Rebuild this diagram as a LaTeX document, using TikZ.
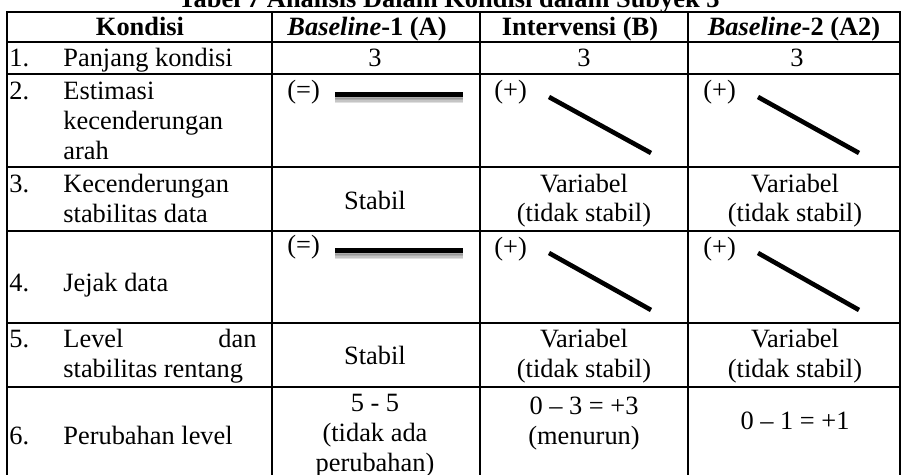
\documentclass[tikz,border=0pt]{standalone}
\usepackage{fontspec}
\setmainfont{Liberation Serif}
\begin{document}
\begin{tikzpicture}[x=0.5pt,y=-0.5pt,
  txt/.style={inner sep=0pt,anchor=base,font=\fontsize{13.2pt}{15pt}\selectfont},
  lft/.style={txt,anchor=base west},
  rgt/.style={txt,anchor=base east},
  hdr/.style={txt,font=\fontsize{13.2pt}{15pt}\selectfont\bfseries},
  rule/.style={line width=1.15pt},
  flat/.style={line width=2.5pt},
  flatshade/.style={line width=2.6pt,black,opacity=0.12},
  slope/.style={line width=2.3pt},
]
\useasboundingbox (0,0) rectangle (902,475);

% caption above the table
\node[hdr] (title) at (449,8) {Tabel 7 Analisis Dalam Kondisi dalam Subyek 3};

% table rules
\draw[rule] (7,12) rectangle (900,478);
\foreach \y in {42,74,167,231,323,387} \draw[rule] (7,\y) -- (900,\y);
\foreach \x in {272,480,688} \draw[rule] (\x,12) -- (\x,478);

% header row
\node[hdr] (h1) at (140,36) {Kondisi};
\node[hdr] (h2) at (367,36) {\textit{Baseline}-1 (A)};
\node[hdr] (h3) at (580,36) {Intervensi (B)};
\node[hdr] (h4) at (794,36) {\textit{Baseline}-2 (A2)};

% 1. Panjang kondisi
\node[lft] (n1) at (9,67) {1.};
\node[lft] (k1) at (63,67) {Panjang kondisi};
\node[txt] (a1) at (375,67) {3};
\node[txt] (b1) at (584,67) {3};
\node[txt] (c1) at (797,67) {3};

% 2. Estimasi kecenderungan arah
\node[lft] (n2) at (9,100) {2.};
\node[lft] (k2a) at (63,100) {Estimasi};
\node[lft] (k2b) at (63,130) {kecenderungan};
\node[lft] (k2c) at (63,160) {arah};
\node[lft] (a2) at (287,99) {(=)};
\coordinate (a2s) at (335,95); \coordinate (a2e) at (463,95);
\foreach \d in {0.8,1.4,2.0,2.6}
  \draw[flatshade] ([yshift=-\d pt]a2s) -- ([yshift=-\d pt]a2e);
\draw[flat] (a2s) -- (a2e);
\node[lft] (b2) at (494,99) {(+)};
\coordinate (b2s) at (549,97); \coordinate (b2e) at (651,153);
\draw[slope] (b2s) -- (b2e);
\node[lft] (c2) at (703,99) {(+)};
\coordinate (c2s) at (758,97); \coordinate (c2e) at (859,153);
\draw[slope] (c2s) -- (c2e);

% 3. Kecenderungan stabilitas data
\node[lft] (n3) at (9,193) {3.};
\node[lft] (k3a) at (63,193) {Kecenderungan};
\node[lft] (k3b) at (63,223) {stabilitas data};
\node[txt] (a3) at (375,210) {Stabil};
\node[txt] (b3a) at (584,193) {Variabel};
\node[txt] (b3b) at (584,222) {(tidak stabil)};
\node[txt] (c3a) at (795,193) {Variabel};
\node[txt] (c3b) at (795,222) {(tidak stabil)};

% 4. Jejak data
\node[lft] (n4) at (9,292) {4.};
\node[lft] (k4) at (63,292) {Jejak data};
\node[lft] (a4) at (287,254) {(=)};
\coordinate (a4s) at (335,251); \coordinate (a4e) at (463,251);
\foreach \d in {0.8,1.4,2.0,2.6}
  \draw[flatshade] ([yshift=-\d pt]a4s) -- ([yshift=-\d pt]a4e);
\draw[flat] (a4s) -- (a4e);
\node[lft] (b4) at (494,256) {(+)};
\coordinate (b4s) at (549,253); \coordinate (b4e) at (651,310);
\draw[slope] (b4s) -- (b4e);
\node[lft] (c4) at (703,256) {(+)};
\coordinate (c4s) at (758,253); \coordinate (c4e) at (859,310);
\draw[slope] (c4s) -- (c4e);

% 5. Level dan stabilitas rentang
\node[lft] (n5) at (9,348) {5.};
\node[lft] (k5a) at (63,348) {Level};
\node[rgt] (k5b) at (257,348) {dan};
\node[lft] (k5c) at (63,378) {stabilitas rentang};
\node[txt] (a5) at (375,365) {Stabil};
\node[txt] (b5a) at (584,348) {Variabel};
\node[txt] (b5b) at (584,378) {(tidak stabil)};
\node[txt] (c5a) at (795,348) {Variabel};
\node[txt] (c5b) at (795,378) {(tidak stabil)};

% 6. Perubahan level
\node[lft] (n6) at (9,445) {6.};
\node[lft] (k6) at (63,445) {Perubahan level};
\node[txt] (a6a) at (375,412) {5 - 5};
\node[txt] (a6b) at (375,442) {(tidak ada};
\node[txt] (a6c) at (375,472) {perubahan)};
\node[txt] (b6a) at (584,415) {0 – 3 = +3};
\node[txt] (b6b) at (584,445) {(menurun)};
\node[txt] (c6) at (795,430) {0 – 1 = +1};
\end{tikzpicture}
\end{document}
